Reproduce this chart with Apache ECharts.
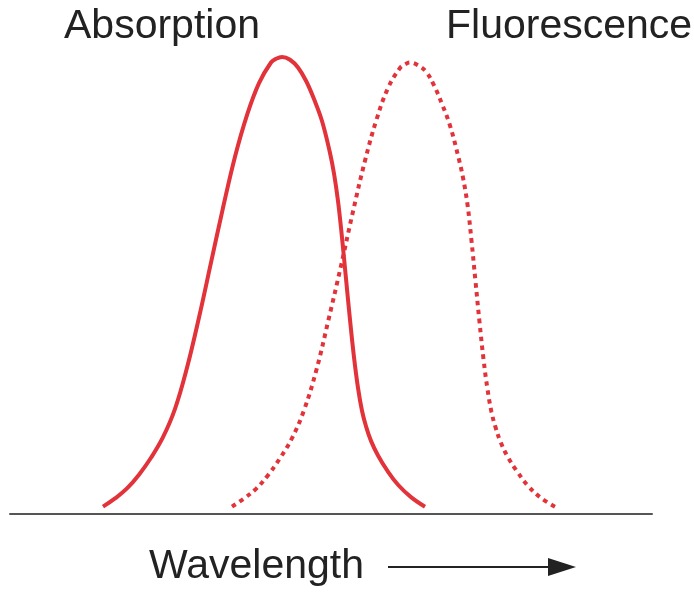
<!DOCTYPE html>
<html>
<head>
<meta charset="utf-8">
<script src="https://cdn.jsdelivr.net/npm/echarts@6/dist/echarts.min.js"></script>
<style>
  html, body { margin: 0; padding: 0; background: #fff; }
  #spectra { width: 694px; height: 592px; }
</style>
</head>
<body>
<div id="spectra"></div>
<script>
// [wavelength (arbitrary units), relative intensity]
var absorption = [
  [93, 1.6], [105, 3.4], [117, 5.6], [129, 8.6], [141, 12.3], [153, 16.8], [165, 23],
  [177, 32], [189, 43], [201, 55], [213, 67], [225, 78.2], [237, 87.3], [249, 94.3],
  [261, 98.8], [266, 99.6], [272, 100], [280, 99.4], [288, 97.7], [296, 94.8], [304, 90.8],
  [312, 86], [320, 79], [324, 74.5], [328, 68.5], [332, 60.5], [336, 51.5], [340, 42.5],
  [344, 34.3], [348, 27.6], [352, 22.6], [356, 19.2], [361, 16], [368, 12.8], [377, 9.6],
  [388, 6.4], [401, 3.7], [415, 1.6]
];
var fluorescence = [
  [222, 1.6], [234, 3.4], [246, 5.5], [258, 8.5], [270, 12.2], [282, 16.6], [294, 22.7],
  [306.5, 31.6], [318.5, 42.5], [331, 54.3], [343, 66.2], [355, 77.3], [366.5, 86.3],
  [378, 93.2], [390, 97.6], [395, 98.4], [400, 98.8], [408, 98.2], [416, 96.8], [424, 93.8],
  [432, 89.7], [440, 85], [448.5, 78], [453, 73.6], [457.5, 67.7], [461.5, 59.8],
  [465.5, 50.9], [469.5, 42], [473.5, 33.9], [477.5, 27.3], [481.5, 22.3], [485.5, 19],
  [490.5, 15.8], [497.5, 12.6], [506.5, 9.5], [517.5, 6.3], [530.5, 3.6], [545, 1.6]
];
var labels = ['Absorption', 'Fluorescence', 'Wavelength'];

var red = '#e2323a';
var font = '41px "Liberation Sans", Arial, sans-serif';

var myChart = echarts.init(document.getElementById('spectra'));
myChart.setOption({
  animation: false,
  grid: { left: 10, right: 42, top: 57, bottom: 78 },
  xAxis: {
    type: 'value',
    min: 0,
    max: 642,
    axisLine: { show: true, lineStyle: { color: '#555', width: 2 } },
    axisTick: { show: false },
    axisLabel: { show: false },
    splitLine: { show: false }
  },
  yAxis: {
    type: 'value',
    min: 0,
    max: 100,
    show: false,
    splitLine: { show: false }
  },
  series: [
    {
      name: labels[0],
      type: 'line',
      data: absorption,
      smooth: 0.4,
      showSymbol: false,
      lineStyle: { color: red, width: 4 }
    },
    {
      name: labels[1],
      type: 'line',
      data: fluorescence,
      smooth: 0.4,
      showSymbol: false,
      lineStyle: { color: red, width: 4, type: [4.5, 4.5], cap: 'butt' }
    }
  ],
  graphic: [
    { type: 'text', x: 64, y: 27,
      style: { text: labels[0], font: font, fill: '#222', verticalAlign: 'middle' } },
    { type: 'text', x: 446, y: 27,
      style: { text: labels[1], font: font, fill: '#222', verticalAlign: 'middle' } },
    { type: 'text', x: 149, y: 567,
      style: { text: labels[2], font: font, fill: '#222', verticalAlign: 'middle' } },
    { type: 'line', shape: { x1: 388, y1: 567, x2: 552, y2: 567 },
      style: { stroke: '#222', lineWidth: 2 } },
    { type: 'polygon', shape: { points: [[548, 558], [576, 567], [548, 576]] },
      style: { fill: '#222' } }
  ]
});
</script>
</body>
</html>
